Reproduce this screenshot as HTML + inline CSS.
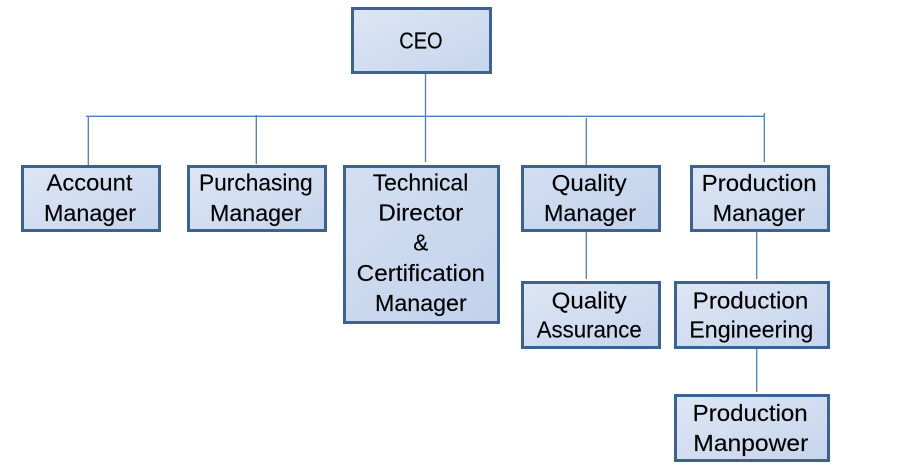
<!DOCTYPE html>
<html>
<head>
<meta charset="utf-8">
<style>
  html, body { margin: 0; padding: 0; background: #ffffff; }
  body { width: 898px; height: 470px; overflow: hidden; }
  svg { display: block; }
  text { font-family: "Liberation Sans", sans-serif; font-size: 23px; fill: #000; stroke: #000; stroke-width: 0.15px; }
</style>
</head>
<body>
<svg width="898" height="470" viewBox="0 0 898 470" xmlns="http://www.w3.org/2000/svg">
  <defs>
    <linearGradient id="g" x1="0" y1="0" x2="1" y2="1">
      <stop offset="0" stop-color="#dde6f4"/>
      <stop offset="1" stop-color="#c6d5ed"/>
    </linearGradient>
    <linearGradient id="g2" x1="0" y1="0" x2="1" y2="1">
      <stop offset="0" stop-color="#d3dff1"/>
      <stop offset="1" stop-color="#c2d2ec"/>
    </linearGradient>
  </defs>

  <!-- connectors -->
  <g stroke="#4a7ec2" stroke-width="1.3" fill="none">
    <line x1="425.5" y1="74" x2="425.5" y2="162"/>
    <line x1="86" y1="116.3" x2="764.3" y2="116.3"/>
    <line x1="88.3" y1="116.3" x2="88.3" y2="166"/>
    <line x1="256.3" y1="115" x2="256.3" y2="164"/>
    <line x1="586.3" y1="118" x2="586.3" y2="166"/>
    <line x1="764.3" y1="113" x2="764.3" y2="162"/>
    <line x1="586.3" y1="231" x2="586.3" y2="279"/>
    <line x1="756.7" y1="231" x2="756.7" y2="279"/>
    <line x1="756.7" y1="343" x2="756.7" y2="392"/>
  </g>

  <!-- boxes -->
  <g stroke="#3d6190" stroke-width="3">
    <rect x="352.5" y="8.5" width="138" height="64" fill="url(#g)"/>
    <rect x="22.5" y="166.5" width="137" height="64" fill="url(#g)"/>
    <rect x="188.5" y="166.5" width="137" height="64" fill="url(#g)"/>
    <rect x="344.5" y="166.5" width="154" height="156" fill="url(#g2)"/>
    <rect x="522.5" y="166.5" width="137" height="64" fill="url(#g2)"/>
    <rect x="691.5" y="166.5" width="137" height="64" fill="url(#g)"/>
    <rect x="522.5" y="282.5" width="137" height="65" fill="url(#g)"/>
    <rect x="675.5" y="282.5" width="153" height="65" fill="url(#g)"/>
    <rect x="675.5" y="395.5" width="153" height="65" fill="url(#g)"/>
  </g>

  <!-- labels -->
  <text x="399.3" y="48.5" textLength="43.3" lengthAdjust="spacingAndGlyphs">CEO</text>

  <text x="46.5" y="190.7" textLength="86" lengthAdjust="spacingAndGlyphs">Account</text>
  <text x="44" y="221" textLength="92" lengthAdjust="spacingAndGlyphs">Manager</text>

  <text x="199" y="190.7" textLength="113.7" lengthAdjust="spacingAndGlyphs">Purchasing</text>
  <text x="210" y="221" textLength="91.7" lengthAdjust="spacingAndGlyphs">Manager</text>

  <text x="372.7" y="190.7" textLength="95.6" lengthAdjust="spacingAndGlyphs">Technical</text>
  <text x="378.3" y="220.7" textLength="85" lengthAdjust="spacingAndGlyphs">Director</text>
  <text x="413.3" y="250.7" textLength="15" lengthAdjust="spacingAndGlyphs">&amp;</text>
  <text x="356.7" y="281" textLength="128.3" lengthAdjust="spacingAndGlyphs">Certification</text>
  <text x="375" y="311" textLength="91.7" lengthAdjust="spacingAndGlyphs">Manager</text>

  <text x="551.7" y="191" textLength="75" lengthAdjust="spacingAndGlyphs">Quality</text>
  <text x="544" y="221" textLength="92" lengthAdjust="spacingAndGlyphs">Manager</text>

  <text x="701.7" y="191" textLength="115" lengthAdjust="spacingAndGlyphs">Production</text>
  <text x="712.7" y="221" textLength="92.3" lengthAdjust="spacingAndGlyphs">Manager</text>

  <text x="551.7" y="308.3" textLength="75" lengthAdjust="spacingAndGlyphs">Quality</text>
  <text x="536.7" y="337.7" textLength="105" lengthAdjust="spacingAndGlyphs">Assurance</text>

  <text x="692.7" y="308.3" textLength="115.6" lengthAdjust="spacingAndGlyphs">Production</text>
  <text x="689.3" y="337.7" textLength="124" lengthAdjust="spacingAndGlyphs">Engineering</text>

  <text x="692.7" y="421" textLength="115" lengthAdjust="spacingAndGlyphs">Production</text>
  <text x="693.3" y="451" textLength="115" lengthAdjust="spacingAndGlyphs">Manpower</text>
</svg>
</body>
</html>
